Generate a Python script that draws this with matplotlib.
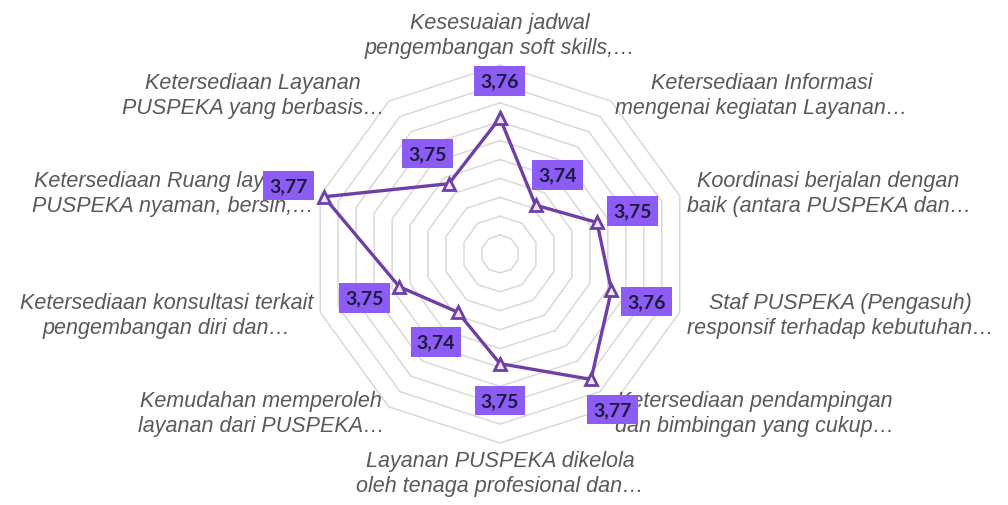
import numpy as np
import matplotlib
matplotlib.use('Agg')
import matplotlib.pyplot as plt

categories = [
    'Kesesuaian jadwal\npengembangan soft skills,…',
    'Ketersediaan Informasi\nmengenai kegiatan Layanan…',
    'Koordinasi berjalan dengan\nbaik (antara PUSPEKA dan…',
    'Staf PUSPEKA (Pengasuh)\nresponsif terhadap kebutuhan…',
    'Ketersediaan pendampingan\ndan bimbingan yang cukup…',
    'Layanan PUSPEKA dikelola\noleh tenaga profesional dan…',
    'Kemudahan memperoleh\nlayanan dari PUSPEKA…',
    'Ketersediaan konsultasi terkait\npengembangan diri dan…',
    'Ketersediaan Ruang layanan\nPUSPEKA nyaman, bersih,…',
    'Ketersediaan Layanan\nPUSPEKA yang berbasis…',
]
scores = [3.761, 3.741, 3.752, 3.756, 3.766, 3.754, 3.744, 3.753, 3.774, 3.748]

r_min, r_max, r_step = 3.725, 3.775, 0.005

line_col = '#6E3FA6'
box_col = '#8C5CF5'
grid_col = '#D9D9D9'
text_col = '#595959'


def main():
    n = len(categories)
    angles = np.arange(n) * 2 * np.pi / n
    closed = np.append(angles, angles[0])

    fig = plt.figure(figsize=(10.08, 5.06), dpi=100)
    ax = fig.add_axes([0.3085, 0.1225, 0.375, 0.747], projection='polar')
    ax.set_theta_zero_location('N')
    ax.set_theta_direction(-1)
    ax.set_ylim(r_min, r_max)
    ax.grid(False)
    ax.spines['polar'].set_visible(False)
    ax.set_xticks([])
    ax.set_yticks([])
    ax.patch.set_alpha(0)

    # decagon rings
    for lvl in np.arange(r_min + r_step, r_max + r_step / 2, r_step):
        ax.plot(closed, [lvl] * len(closed), color=grid_col, lw=1.1,
                zorder=1, clip_on=False)

    vals = scores + scores[:1]
    ax.plot(closed, vals, color=line_col, lw=2.4, marker='^', ms=9,
            mfc='#EDE6F7', mec=line_col, mew=2, zorder=3, clip_on=False)

    # value labels, pushed radially outward
    for a, v in zip(angles, scores):
        off = 37
        ax.annotate(f'{v:.2f}'.replace('.', ','), (a, v),
                    xytext=(off * np.sin(a), off * np.cos(a)),
                    textcoords='offset pixels', ha='center', va='center',
                    fontsize=14, fontweight='bold', family='Lato',
                    color='#1C1B3F', zorder=5, annotation_clip=False,
                    bbox=dict(boxstyle='square,pad=0.32', fc=box_col,
                              ec='none'))

    # category labels
    r_lab = r_max + 0.0019
    for a, lab in zip(angles, categories):
        s, c = np.sin(a), np.cos(a)
        if s > 0.1:
            ha = 'left'
        elif s < -0.1:
            ha = 'right'
        else:
            ha = 'center'
        if abs(s) <= 0.1:
            va = 'bottom' if c > 0 else 'top'
        else:
            va = 'center'
        ax.text(a, r_lab, lab, ha=ha, va=va, multialignment='center',
                fontsize=15.5, style='italic', family='Liberation Sans',
                color=text_col, linespacing=1.25, clip_on=False, zorder=4)

    fig.savefig('out.png', dpi=100, facecolor='white')


if __name__ == "__main__":
    main()
